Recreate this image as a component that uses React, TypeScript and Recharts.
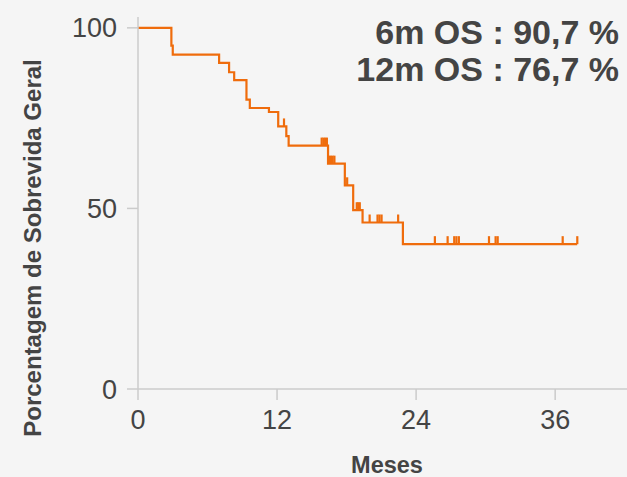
import { ComposedChart, Line, Scatter, XAxis, YAxis } from "recharts";

// Kaplan-Meier step curve: event times (months) and survival (%) after each step
const EVENT_MONTHS = [0, 2.88, 3.0, 7.0, 7.86, 8.3, 9.36, 9.65, 11.3, 12.1, 12.8, 13.0, 16.4, 17.85, 18.57, 19.38, 22.86, 37.9];
const SURVIVAL_PCT = [100, 95.1, 92.6, 90.3, 87.7, 85.5, 80.1, 77.8, 76.7, 72.7, 70.0, 67.4, 62.4, 56.4, 49.5, 46.1, 40.1, 40.1];

// Censored patients (months) and the survival level they sit on
const CENSOR_MONTHS = [
  12.6,
  15.85, 16.0, 16.15, 16.3,
  16.5, 16.65, 16.8, 16.95,
  18.05,
  18.88, 19.01, 19.14,
  19.99, 20.67, 20.84, 21.02, 22.45,
  25.62, 26.72, 27.29, 27.48, 27.69, 30.29, 30.86, 31.04, 36.65, 37.91,
];
const CENSOR_PCT = [
  72.7,
  67.4, 67.4, 67.4, 67.4,
  62.4, 62.4, 62.4, 62.4,
  56.4,
  49.5, 49.5, 49.5,
  46.1, 46.1, 46.1, 46.1, 46.1,
  40.1, 40.1, 40.1, 40.1, 40.1, 40.1, 40.1, 40.1, 40.1, 40.1,
];

const X_TICKS = [0, 12, 24, 36];
const Y_TICKS = [0, 50, 100];
const SUMMARY = ["6m OS : 90,7 %", "12m OS : 76,7 %"];

const ORANGE = "#ef6c0c";
const AXIS_GRAY = "#cbcbcb";
const TEXT = "#444444";
const FONT = "'Liberation Sans', Arial, Helvetica, sans-serif";

const curve = EVENT_MONTHS.map((t, i) => ({ t, s: SURVIVAL_PCT[i] }));
const censors = CENSOR_MONTHS.map((t, i) => ({ t, s: CENSOR_PCT[i] }));

// small vertical tick drawn above the curve for each censored case
function CensorTick(props: any) {
  const { cx, cy } = props;
  if (cx == null || cy == null) return null;
  return <rect x={cx - 1.1} y={cy - 8} width={2.2} height={8} fill={ORANGE} />;
}

export default function App() {
  return (
    <div
      style={{
        position: "absolute",
        left: 0,
        top: 0,
        width: 627,
        height: 477,
        background: "#f5f5f5",
        fontFamily: FONT,
        overflow: "hidden",
      }}
    >
      <ComposedChart
        width={627}
        height={477}
        margin={{ top: 17, right: 0, bottom: 0, left: 0 }}
      >
        <XAxis
          type="number"
          dataKey="t"
          domain={[0, 42.2]}
          ticks={X_TICKS}
          allowDataOverflow
          height={88}
          tickSize={11}
          tickMargin={10}
          axisLine={{ stroke: AXIS_GRAY, strokeWidth: 1.5 }}
          tickLine={{ stroke: AXIS_GRAY, strokeWidth: 1.5 }}
          tick={{ fill: TEXT, fontSize: 27 }}
          label={{
            content: () => (
              <text x={387} y={473} textAnchor="middle" fill={TEXT} fontSize={23.5} fontWeight="bold">
                Meses
              </text>
            ),
          }}
        />
        <YAxis
          type="number"
          dataKey="s"
          domain={[0, 103]}
          ticks={Y_TICKS}
          allowDataOverflow
          width={138}
          tickSize={11}
          tickMargin={10}
          axisLine={{ stroke: AXIS_GRAY, strokeWidth: 1.5 }}
          tickLine={{ stroke: AXIS_GRAY, strokeWidth: 1.5 }}
          tick={{ fill: TEXT, fontSize: 27 }}
          label={{
            content: () => (
              <text
                x={32}
                y={248}
                transform="rotate(-90 32 248)"
                textAnchor="middle"
                dominantBaseline="central"
                fill={TEXT}
                fontSize={24}
                fontWeight="bold"
              >
                Porcentagem de Sobrevida Geral
              </text>
            ),
          }}
        />
        <Line
          data={curve}
          dataKey="s"
          type="stepAfter"
          stroke={ORANGE}
          strokeWidth={2.2}
          dot={false}
          activeDot={false}
          isAnimationActive={false}
        />
        <Scatter data={censors} dataKey="s" shape={CensorTick} isAnimationActive={false} />
      </ComposedChart>
      <div
        style={{
          position: "absolute",
          right: 8,
          top: 14,
          textAlign: "right",
          color: TEXT,
          fontSize: 34,
          fontWeight: "bold",
          lineHeight: "37.4px",
          whiteSpace: "nowrap",
        }}
      >
        {SUMMARY.map((line) => (
          <div key={line}>{line}</div>
        ))}
      </div>
    </div>
  );
}
